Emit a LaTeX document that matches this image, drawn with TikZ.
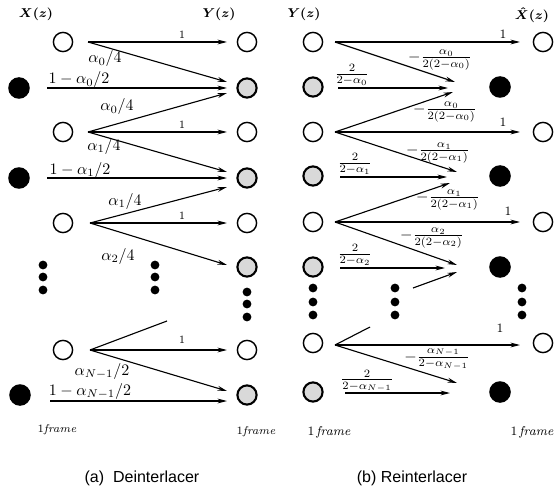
\documentclass[tikz,border=0pt]{standalone}
\usepackage{fontspec}
\newfontfamily\capfont{Liberation Sans}
\usetikzlibrary{arrows.meta}
\begin{document}
\begin{tikzpicture}[x=0.625pt,y=-0.625pt,
  opencirc/.style={circle,draw,line width=0.9pt,minimum size=12pt,inner sep=0pt},
  graycirc/.style={circle,draw,line width=1.3pt,fill=gray!30,minimum size=12pt,inner sep=0pt},
  filledcirc/.style={circle,fill=black,minimum size=13.5pt,inner sep=0pt},
  vdot/.style={circle,fill=black,minimum size=5.5pt,inner sep=0pt},
  arr/.style={-{Stealth[length=6pt,width=3pt]},line width=0.7pt},
  plain/.style={line width=0.7pt},
  lbl/.style={inner sep=0.5pt,font=\normalsize},
  one/.style={inner sep=0.5pt,font=\scriptsize},
  head/.style={inner sep=0pt,font=\footnotesize\boldmath},
  frm/.style={inner sep=0pt,font=\scriptsize},
  captxt/.style={inner sep=0pt,font=\capfont\normalsize}]
\useasboundingbox (0,0) rectangle (555,492);

% ---------------- Left panel: Deinterlacer ----------------
\node[head] (hX) at (36,14) {$X(z)$};
\node[head] (hY) at (219,14) {$Y(z)$};

\node[opencirc]   (La0) at (63,42) {};
\node[filledcirc] (Lf1) at (19,88) {};
\node[opencirc]   (La2) at (63,132) {};
\node[filledcirc] (Lf3) at (19,178) {};
\node[opencirc]   (La4) at (63,223) {};
\node[opencirc]   (La6) at (63,350) {};
\node[filledcirc] (Lf7) at (20,395) {};

\node[opencirc] (Ra0) at (247,42) {};
\node[graycirc] (Ra1) at (247,88) {};
\node[opencirc] (Ra2) at (247,132) {};
\node[graycirc] (Ra3) at (247,178) {};
\node[opencirc] (Ra4) at (247,223) {};
\node[graycirc] (Ra5) at (247,267) {};
\node[opencirc] (Ra6) at (247,350) {};
\node[graycirc] (Ra7) at (247,395) {};

\foreach \n/\x/\y in {dL1/43/265,dL2/43/277,dL3/43/290,
                      dM1/155/265,dM2/155/277,dM3/155/290,
                      dR1/247/292,dR2/247/304,dR3/247/317}
  \node[vdot] (\n) at (\x,\y) {};

\coordinate (s0) at (88,42);
\coordinate (s2) at (88,132);
\coordinate (s4) at (90,223);
\coordinate (s6) at (90,350);
\coordinate (f1) at (47,88);
\coordinate (f3) at (47,178);
\coordinate (f7) at (50,401);
\coordinate (e0) at (227,42);
\coordinate (e1a) at (227,82);
\coordinate (e1h) at (227,88);
\coordinate (e1b) at (227,93);
\coordinate (e2) at (227,132);
\coordinate (e3a) at (227,172);
\coordinate (e3h) at (227,178);
\coordinate (e3b) at (227,187);
\coordinate (e4) at (227,223);
\coordinate (e5a) at (227,265);
\coordinate (e6) at (227,350);
\coordinate (e7a) at (227,391);
\coordinate (e7h) at (227,401);
\coordinate (t6) at (167,321);

\draw[arr] (s0) -- (e0);
\draw[arr] (s0) -- (e1a);
\draw[arr] (f1) -- (e1h);
\draw[arr] (s2) -- (e1b);
\draw[arr] (s2) -- (e2);
\draw[arr] (s2) -- (e3a);
\draw[arr] (f3) -- (e3h);
\draw[arr] (s4) -- (e3b);
\draw[arr] (s4) -- (e4);
\draw[arr] (s4) -- (e5a);
\draw[plain] (s6) -- (t6);
\draw[arr] (s6) -- (e6);
\draw[arr] (s6) -- (e7a);
\draw[arr] (f7) -- (e7h);

\node[one] (l01) at (182,35) {1};
\node[lbl] (l02) at (105,59) {$\alpha_0/4$};
\node[lbl] (l11) at (79,80) {$1-\alpha_0/2$};
\node[lbl] (l21) at (117,107) {$\alpha_0/4$};
\node[one] (l22) at (182,125) {1};
\node[lbl] (l23) at (104,146) {$\alpha_1/4$};
\node[lbl] (l31) at (80,170) {$1-\alpha_1/2$};
\node[lbl] (l41) at (125,201) {$\alpha_1/4$};
\node[one] (l42) at (182,216) {1};
\node[lbl] (l43) at (118,256) {$\alpha_2/4$};
\node[one] (l61) at (182,340) {1};
\node[lbl] (l62) at (102,371) {$\alpha_{N-1}/2$};
\node[lbl] (l71) at (90,391) {$1-\alpha_{N-1}/2$};

\node[frm] (fa1) at (57,430) {1\textit{frame}};
\node[frm] (fa2) at (256,432) {1\textit{frame}};
\node[captxt] (capa) at (142,478) {(a)\ \ Deinterlacer};

% ---------------- Right panel: Reinterlacer ----------------
\node[head] (hY2) at (304,14) {$Y(z)$};
\node[head] (hX2) at (532,15) {$\hat X(z)$};

\node[opencirc] (Pa0) at (313,42) {};
\node[graycirc] (Pa1) at (313,87) {};
\node[opencirc] (Pa2) at (313,132) {};
\node[graycirc] (Pa3) at (313,176) {};
\node[opencirc] (Pa4) at (313,222) {};
\node[graycirc] (Pa5) at (313,267) {};
\node[opencirc] (Pa6) at (313,343) {};
\node[graycirc] (Pa7) at (313,392) {};

\node[opencirc]   (Qa0) at (543,42) {};
\node[filledcirc] (Qf1) at (500,87) {};
\node[opencirc]   (Qa2) at (543,132) {};
\node[filledcirc] (Qf3) at (500,176) {};
\node[opencirc]   (Qa4) at (543,222) {};
\node[filledcirc] (Qf5) at (500,267) {};
\node[opencirc]   (Qa6) at (543,343) {};
\node[filledcirc] (Qf7) at (500,392) {};

\foreach \n/\x/\y in {pL1/313/288,pL2/313/302,pL3/313/315,
                      pM1/395/288,pM2/395/302,pM3/395/315,
                      pR1/522/288,pR2/522/302,pR3/522/315}
  \node[vdot] (\n) at (\x,\y) {};

\coordinate (u0) at (335,42);
\coordinate (u2) at (335,132);
\coordinate (u4) at (335,222);
\coordinate (u6) at (335,345);
\coordinate (g1) at (338,88);
\coordinate (g3) at (340,177);
\coordinate (g5) at (340,268);
\coordinate (g7) at (345,393);
\coordinate (v0) at (520,42);
\coordinate (v1a) at (455,82);
\coordinate (v1h) at (448,88);
\coordinate (v1b) at (453,92);
\coordinate (v2) at (520,132);
\coordinate (v3a) at (457,172);
\coordinate (v3h) at (447,177);
\coordinate (v3b) at (450,183);
\coordinate (v4) at (520,222);
\coordinate (v5a) at (457,265);
\coordinate (v5h) at (445,268);
\coordinate (w5s) at (413,288);
\coordinate (v5b) at (457,272);
\coordinate (v6) at (520,345);
\coordinate (v7a) at (457,383);
\coordinate (v7h) at (450,393);
\coordinate (t6b) at (370,327);

\draw[arr] (u0) -- (v0);
\draw[arr] (u0) -- (v1a);
\draw[arr] (g1) -- (v1h);
\draw[arr] (u2) -- (v1b);
\draw[arr] (u2) -- (v2);
\draw[arr] (u2) -- (v3a);
\draw[arr] (g3) -- (v3h);
\draw[arr] (u4) -- (v3b);
\draw[arr] (u4) -- (v4);
\draw[arr] (u4) -- (v5a);
\draw[arr] (g5) -- (v5h);
\draw[arr] (w5s) -- (v5b);
\draw[plain] (u6) -- (t6b);
\draw[arr] (u6) -- (v6);
\draw[arr] (u6) -- (v7a);
\draw[arr] (g7) -- (v7h);

\node[one] (m01) at (503,34) {\footnotesize 1};
\node[lbl] (m02) at (440,60) {$-\frac{\alpha_0}{2(2-\alpha_0)}$};
\node[lbl] (m11) at (352,75) {$\frac{2}{2-\alpha_0}$};
\node[lbl] (m21) at (445,112) {$-\frac{\alpha_0}{2(2-\alpha_0)}$};
\node[one] (m22) at (503,122) {\footnotesize 1};
\node[lbl] (m23) at (438,153) {$-\frac{\alpha_1}{2(2-\alpha_1)}$};
\node[lbl] (m31) at (355,164) {$\frac{2}{2-\alpha_1}$};
\node[lbl] (m41) at (448,200) {$-\frac{\alpha_1}{2(2-\alpha_1)}$};
\node[one] (m42) at (508,211) {\footnotesize 1};
\node[lbl] (m43) at (432,238) {$-\frac{\alpha_2}{2(2-\alpha_2)}$};
\node[lbl] (m51) at (355,255) {$\frac{2}{2-\alpha_2}$};
\node[one] (m61) at (500,328) {\footnotesize 1};
\node[lbl] (m62) at (437,359) {$-\frac{\alpha_{N-1}}{2-\alpha_{N-1}}$};
\node[lbl] (m71) at (367,381) {$\frac{2}{2-\alpha_{N-1}}$};

\node[frm] (fb1) at (329,432) {\footnotesize 1\,\textit{frame}};
\node[frm] (fb2) at (532,432) {\footnotesize 1\,\textit{frame}};
\node[captxt] (capb) at (412,478) {(b) Reinterlacer};
\end{tikzpicture}
\end{document}
